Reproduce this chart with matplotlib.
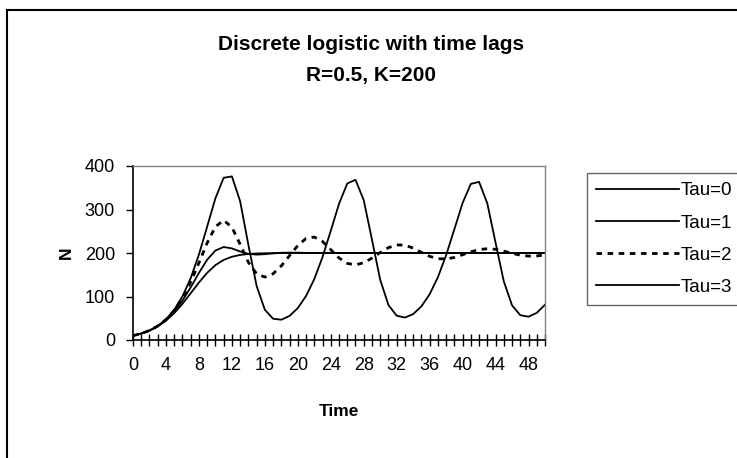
import matplotlib
matplotlib.use("Agg")
import matplotlib.pyplot as plt
from matplotlib.patches import Rectangle

plt.rcParams["font.family"] = ["Liberation Sans", "DejaVu Sans"]

# time steps 0..50
time = list(range(51))

# values (N per time step)
tau0 = [10, 14.8, 21.6, 31.2, 44.4, 61.7, 83.0, 107.3, 132.1, 154.5,
        172.1, 184.1, 191.4, 195.5, 197.7, 198.9, 199.4, 199.7, 199.9, 199.9,
        200, 200, 200, 200, 200, 200, 200, 200, 200, 200,
        200, 200, 200, 200, 200, 200, 200, 200, 200, 200,
        200, 200, 200, 200, 200, 200, 200, 200, 200, 200, 200]
tau1 = [10, 14.8, 21.8, 31.8, 46.0, 65.4, 90.5, 121.0, 154.1, 184.5,
        205.7, 213.7, 210.6, 203.4, 198.0, 196.3, 197.3, 199.1, 200.5, 200.9,
        200.7, 200.2, 199.9, 199.8, 199.8, 199.9, 200, 200, 200, 200,
        200, 200, 200, 200, 200, 200, 200, 200, 200, 200,
        200, 200, 200, 200, 200, 200, 200, 200, 200, 200, 200]
tau2 = [10, 14.8, 21.8, 32.1, 47.0, 67.9, 96.4, 133.2, 177.2, 223.2,
        260.4, 275.2, 259.3, 220.1, 178.7, 152.2, 144.6, 152.3, 170.4, 194.1,
        217.2, 233.3, 236.7, 226.5, 207.7, 188.6, 176.1, 172.7, 177.6, 188.2,
        201.1, 212.3, 218.6, 218.0, 211.3, 201.5, 192.4, 187.0, 186.3, 189.8,
        196.0, 202.7, 207.9, 209.9, 208.5, 204.4, 199.3, 195.1, 192.9, 193.3, 195.6]
tau3 = [10, 14.8, 21.8, 32.1, 47.3, 69.3, 100.1, 142.1, 196.4, 260.6,
        325.7, 372.8, 376.1, 319.2, 218.9, 124.4, 69.6, 48.9, 46.6, 55.4,
        73.4, 101.2, 140.0, 190.6, 250.9, 312.9, 359.8, 368.3, 321.5, 230.8,
        138.6, 80.3, 55.9, 51.6, 59.5, 77.3, 105.2, 144.2, 194.9, 254.6,
        315.0, 358.9, 363.5, 313.9, 223.7, 134.8, 79.7, 57.0, 53.6, 62.4, 81.1]

labels = ["Tau=0", "Tau=1", "Tau=2", "Tau=3"]

W, H = 737, 458
fig = plt.figure(figsize=(W / 100, H / 100), dpi=100)
ax = fig.add_axes([133 / W, 1 - 340 / H, (545 - 133) / W, (340 - 166) / H])

lines = []
lines += ax.plot(time, tau0, color="black", lw=1.3)
lines += ax.plot(time, tau1, color="black", lw=1.3)
lines += ax.plot(time, tau2, color="black", lw=2.0, ls=(0, (2.0, 2.0)))
lines += ax.plot(time, tau3, color="black", lw=1.3)

ax.set_xlim(0, 50)
ax.set_ylim(0, 400)
ax.set_xticks(range(0, 51))
ax.set_xticklabels([str(t) if t % 4 == 0 and t <= 48 else "" for t in range(51)])
ax.set_yticks([0, 100, 200, 300, 400])
ax.tick_params(axis="x", direction="inout", length=8, width=1, pad=8, labelsize=13)
ax.tick_params(axis="y", direction="out", length=5, width=1, pad=8, labelsize=13)

for side in ("left", "bottom"):
    ax.spines[side].set_color("black")
    ax.spines[side].set_linewidth(1.2)
for side in ("top", "right"):
    ax.spines[side].set_color("#808080")
    ax.spines[side].set_linewidth(1.0)

ax.set_xlabel("Time", fontsize=12.5, fontweight="bold", labelpad=22)
ax.set_ylabel("N", fontsize=12.5, fontweight="bold", labelpad=8)

fig.text(371 / W, 1 - 45 / H, "Discrete logistic with time lags",
         ha="center", va="center", fontsize=15, fontweight="bold")
fig.text(371 / W, 1 - 75 / H, "R=0.5, K=200",
         ha="center", va="center", fontsize=15, fontweight="bold")

# chart area border (cut off at right/bottom like the original)
fig.patches.append(Rectangle((7 / W, -0.2), 1.0, 1.2 - 10 / H,
                             transform=fig.transFigure, fill=False,
                             edgecolor="black", lw=1.5))

leg = fig.legend(lines, labels, loc="upper left",
                 bbox_to_anchor=(587 / W, 1 - 173 / H),
                 fontsize=13.5, frameon=True, fancybox=False,
                 handlelength=4.4, handletextpad=0.1, labelspacing=0.8,
                 borderpad=0.5, borderaxespad=0)
leg.get_frame().set_edgecolor("#404040")
leg.get_frame().set_linewidth(1.0)

fig.savefig("out.png", dpi=100)
